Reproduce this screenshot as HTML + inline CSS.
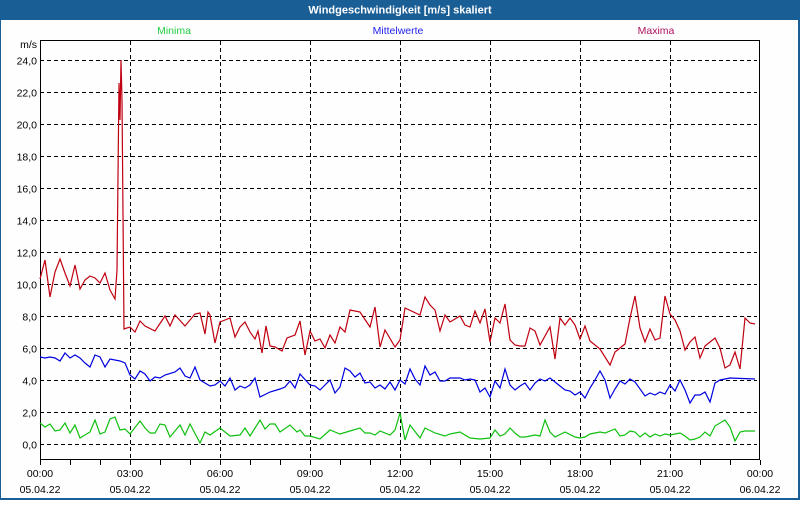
<!DOCTYPE html>
<html><head><meta charset="utf-8"><style>
body{margin:0;width:800px;height:500px;overflow:hidden;background:#fff;font-family:"Liberation Sans",sans-serif}
</style></head><body>
<svg width="800" height="500" xmlns="http://www.w3.org/2000/svg" font-family="Liberation Sans, sans-serif" font-size="10.5">
<rect x="0" y="0" width="800" height="500" fill="#1a5e96"/>
<rect x="1" y="20" width="797" height="478" fill="#fdfefd"/>
<text x="400" y="13.5" fill="#fff" font-weight="bold" font-size="11" text-anchor="middle">Windgeschwindigkeit [m/s] skaliert</text>
<text x="174" y="34" fill="#22cc44" text-anchor="middle">Minima</text>
<text x="398" y="34" fill="#2222ee" text-anchor="middle">Mittelwerte</text>
<text x="656" y="34" fill="#b01060" text-anchor="middle">Maxima</text>
<text x="37" y="48" text-anchor="end" fill="#000">m/s</text>
<g id="grid" stroke="#000" stroke-width="1" stroke-dasharray="4,3"></g>
<g id="yl" fill="#000" text-anchor="end"></g>
<g id="xl" fill="#000" text-anchor="middle"></g>
<rect x="40.5" y="40.5" width="719" height="419" fill="none" stroke="#000"/>
<g id="ticks" stroke="#000"></g>
<polyline id="r" fill="none" stroke="#c00010" stroke-width="1.2"/>
<polyline id="b" fill="none" stroke="#0000e0" stroke-width="1.2"/>
<polyline id="g" fill="none" stroke="#10c010" stroke-width="1.2"/>
</svg>
<script>
var ns="http://www.w3.org/2000/svg";
function el(p,t,a,txt){var e=document.createElementNS(ns,t);for(var k in a)e.setAttribute(k,a[k]);if(txt)e.textContent=txt;document.getElementById(p).appendChild(e);}
for(var v=0;v<=24;v+=2){var y=Math.round(443.5-v*15.96)+0.5;el("grid","line",{x1:40,x2:757,y1:y,y2:y});el("yl","text",{x:37,y:y+4},v.toFixed(1).replace(".",","));}
for(var h=3;h<24;h+=3){var x=40+h*30+0.5;el("grid","line",{x1:x,x2:x,y1:41,y2:465});}
for(var h=0;h<=24;h++){var x=40+h*30+0.5;el("ticks","line",{x1:x,x2:x,y1:460,y2:465});}
for(var h=0;h<=24;h+=3){var x=40+h*30;var hh=(h%24<10?"0":"")+(h%24)+":00";el("xl","text",{x:x,y:477},hh);el("xl","text",{x:x,y:493},h==24?"06.04.22":"05.04.22");}
var R="40,279 45,260 50,297 55,272 60,259 65,273 70,286 75,265 80,289 85,280 90,276 95,278 100,283 105,273 110,290 115,299 117,270 119,83 120,120 121,60 122,100 124,329 130,327 135,332 140,321 145,326 155,331 165,316 170,326 175,315 185,326 195,314 200,313 205,334 208,312 210,315 215,343 220,322 225,320 230,318 235,337 240,327 245,322 250,332 255,339 258,331 262,353 266,326 270,346 275,347 282,351 287,338 295,335 300,321 305,355 310,331 315,341 320,339 325,348 330,335 335,343 340,327 345,332 350,310 360,312 370,327 375,307 380,347 385,330 395,347 400,340 405,308 420,315 425,297 430,305 435,310 440,331 445,315 450,322 460,316 465,325 470,327 475,311 480,323 485,309 490,342 495,318 500,323 505,304 510,340 515,345 520,346 525,346 530,328 535,331 540,345 550,327 555,359 560,318 565,325 570,318 575,325 580,339 585,326 590,341 600,349 610,365 615,352 625,344 630,318 635,296 640,328 645,342 650,329 655,340 660,338 665,296 670,314 675,320 680,331 685,350 690,342 695,337 700,358 705,346 710,342 715,338 720,348 725,368 730,365 735,352 740,369 745,318 750,323 755,324";
var B="40,357 45,358 50,357 55,358 60,361 65,353 70,358 75,355 80,358 85,363 90,367 95,355 100,357 105,367 110,359 120,361 125,363 130,375 135,379 140,371 145,374 150,381 155,377 160,378 165,375 175,372 180,368 185,376 190,378 195,367 200,380 205,383 210,386 215,385 220,381 225,386 230,378 235,390 240,386 245,388 250,385 255,378 260,397 270,392 280,389 285,387 290,381 295,388 300,374 310,385 315,386 320,390 325,385 330,380 335,393 340,387 345,368 350,371 355,377 360,373 365,383 370,382 375,388 380,385 385,389 390,382 395,390 400,380 405,384 410,369 415,379 420,385 425,366 430,375 435,372 440,381 445,381 450,378 460,378 465,380 470,379 475,380 480,392 485,388 490,397 495,381 500,388 505,369 510,385 515,390 520,386 525,383 530,390 535,383 540,379 545,381 550,378 560,386 565,390 570,391 575,395 580,392 585,398 590,388 595,380 600,371 605,380 610,398 615,389 620,381 625,384 630,379 635,382 645,396 650,393 655,395 660,392 665,394 670,385 675,391 680,380 685,390 690,403 695,395 700,395 705,392 710,402 715,383 720,380 725,379 730,378 755,379";
var G="40,423 45,427 50,424 55,431 60,430 65,423 70,433 75,425 80,438 90,432 95,420 100,434 105,432 110,419 115,417 120,430 125,429 130,434 140,421 145,428 150,433 155,433 160,424 165,425 170,437 175,431 180,425 185,435 190,424 200,443 205,432 210,435 220,428 230,436 240,435 245,428 250,436 260,420 265,429 270,424 275,424 280,432 290,425 297,432 300,430 305,436 310,436 320,439 330,430 335,432 340,434 350,431 360,428 365,433 370,433 375,435 380,431 390,435 395,430 400,413 405,440 410,425 420,438 425,428 435,433 445,436 450,434 460,432 470,438 480,439 490,438 495,430 500,436 505,434 510,428 515,433 520,437 525,437 530,436 535,435 540,436 545,420 550,432 555,437 565,432 575,437 580,438 585,437 590,434 600,432 605,433 615,429 620,436 625,435 630,431 635,432 640,437 645,433 650,437 655,434 660,436 665,434 670,435 675,434 680,433 685,436 690,440 695,439 700,437 705,432 710,436 715,426 725,420 730,427 735,441 740,432 745,431 755,431";
document.getElementById("r").setAttribute("points",R);
document.getElementById("b").setAttribute("points",B);
document.getElementById("g").setAttribute("points",G);
</script>
</body></html>
